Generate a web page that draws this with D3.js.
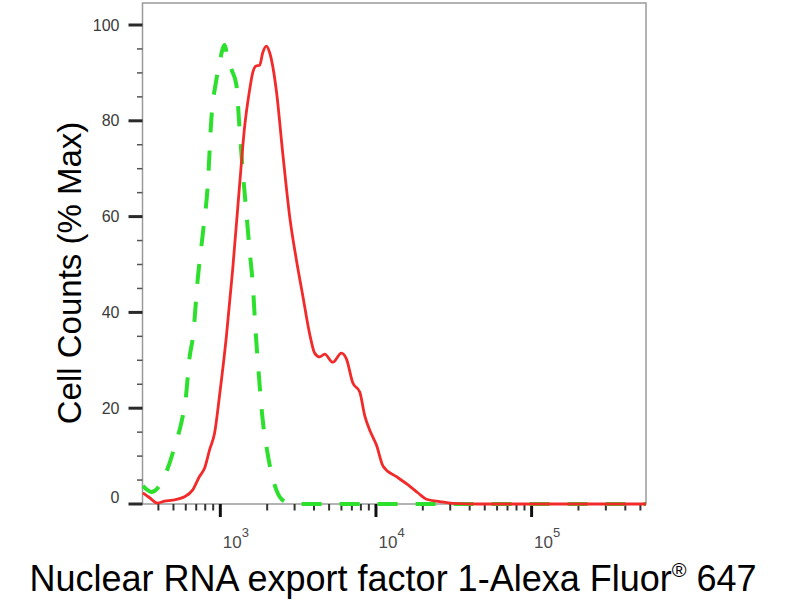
<!DOCTYPE html>
<html>
<head>
<meta charset="utf-8">
<script src="https://cdn.jsdelivr.net/npm/d3@7/dist/d3.min.js"></script>
<style>
  html, body { margin: 0; padding: 0; background: #fff; }
  svg { display: block; }
</style>
</head>
<body>
<svg id="chart" width="800" height="600"></svg>
<script>
// ---- Data (fluorescence intensity, % of max) ----
const redX = [318, 351, 395, 439, 494, 589, 663, 736, 793, 853, 919, 990, 1093, 1200, 1330, 1432, 1542, 1614, 1687, 1790, 1872, 1977, 2076, 2293, 2517, 2793, 3084, 3383, 3750, 4038, 4351, 4688, 5276, 5998, 6459, 7096, 7867, 8476, 9128, 10074, 11113, 13545, 16083, 18650, 21120, 25720, 31170, 46500, 100000, 300000, 543000];
const redY = [2.3, 1.3, 0.2, 0.6, 0.8, 1.5, 2.9, 5.8, 7.5, 11.3, 14.8, 22.8, 34.9, 48.9, 66.6, 78.7, 86.4, 90.0, 91.4, 91.6, 94.2, 95.6, 94.2, 86.2, 73.3, 59.9, 50.9, 43.6, 35.5, 31.5, 30.7, 31.3, 29.6, 31.5, 30.3, 25.3, 23.4, 18.4, 15.4, 12.3, 7.9, 5.7, 4.0, 2.3, 1.0, 0.5, 0.15, 0, 0, 0, 0];

const greenX = [318, 341, 361, 395, 426, 460, 508, 561, 598, 635, 667, 718, 773, 832, 875, 942, 990, 1066, 1119, 1183, 1268, 1331, 1397, 1475, 1542, 1621, 1687, 1738, 1881, 1985, 2128, 2293, 2478, 2791, 3200, 10000, 30000, 100000, 543000];
const greenY = [3.8, 2.9, 2.5, 3.3, 5.0, 7.5, 11.9, 16.9, 21.7, 30.7, 34.9, 47.4, 56.6, 67.0, 80.2, 88.5, 92.3, 95.8, 92.7, 90.6, 87.5, 78.1, 69.1, 60.3, 53.0, 45.3, 35.7, 30.1, 16.9, 11.7, 6.5, 2.9, 1.0, 0.2, 0, 0, 0, 0, 0];

const yTicks = [0, 20, 40, 60, 80, 100];
const yMinor = [5, 10, 15, 25, 30, 35, 45, 50, 55, 65, 70, 75, 85, 90, 95];
const xMajor = [1000, 10000, 100000];
const xMajorExp = ["3", "4", "5"];
const xMinor = [400, 500, 600, 700, 800, 900, 2000, 3000, 4000, 5000, 6000, 7000, 8000, 9000,
  20000, 30000, 40000, 50000, 60000, 70000, 80000, 90000, 200000, 300000, 400000, 500000];

const xTitle = "Nuclear RNA export factor 1-Alexa Fluor";
const xTitleSup = "®";
const xTitleEnd = " 647";
const yTitle = "Cell Counts (% Max)";

// ---- Layout ----
const svg = d3.select("#chart");
const L = 142.5, R = 646, T = 3, B = 504;

const x = d3.scaleLog().domain([Math.pow(10, 2.5), Math.pow(10, 5.735)]).range([L, R]);
const y = d3.scaleLinear().domain([0, 100]).range([B, 25]);

// frame
svg.append("rect").attr("x", L).attr("y", T).attr("width", R - L).attr("height", B - T)
  .attr("fill", "none").attr("stroke", "#9a9a9a").attr("stroke-width", 1.5);

// y ticks
const gy = svg.append("g");
gy.selectAll("line.maj").data(yTicks).join("line")
  .attr("x1", L - 14).attr("x2", L).attr("y1", d => y(d)).attr("y2", d => y(d))
  .attr("stroke", "#2a2a2a").attr("stroke-width", 3);
gy.selectAll("line.min").data(yMinor).join("line")
  .attr("x1", L - 5.5).attr("x2", L).attr("y1", d => y(d)).attr("y2", d => y(d))
  .attr("stroke", "#555").attr("stroke-width", 1.5);
gy.selectAll("text").data(yTicks).join("text")
  .attr("x", L - 23).attr("y", d => y(d) + (d === 0 ? -7 : 0))
  .attr("dy", "0.35em").attr("text-anchor", "end")
  .attr("font-family", "Liberation Sans, Arial, sans-serif").attr("font-size", 16)
  .attr("fill", "#3a3a3a").text(d => d);

// x ticks
const gx = svg.append("g");
gx.selectAll("line.min").data(xMinor).join("line")
  .attr("x1", d => x(d)).attr("x2", d => x(d)).attr("y1", B).attr("y2", B + 6.5)
  .attr("stroke", "#333").attr("stroke-width", 2);
gx.selectAll("line.maj").data(xMajor).join("line")
  .attr("x1", d => x(d)).attr("x2", d => x(d)).attr("y1", B).attr("y2", B + 13)
  .attr("stroke", "#111").attr("stroke-width", 3);
const xl = gx.selectAll("text").data(xMajor).join("text")
  .attr("x", d => x(d) + 2.5).attr("y", 548)
  .attr("font-family", "Liberation Sans, Arial, sans-serif").attr("font-size", 17)
  .attr("fill", "#4a4a4a");
xl.append("tspan").text("10");
xl.append("tspan").attr("dy", -11).attr("font-size", 13).text((d, i) => xMajorExp[i]);

// curves
const line = d3.line().x(d => x(d[0])).y(d => y(d[1])).curve(d3.curveMonotoneX);
const greenData = greenX.map((v, i) => [v, greenY[i]]);
const redData = redX.map((v, i) => [v, redY[i]]);

svg.append("path").datum(greenData).attr("d", line)
  .attr("fill", "none").attr("stroke", "#2de02d").attr("stroke-width", 4)
  .attr("stroke-dasharray", "20,18");
svg.append("path").datum(redData).attr("d", line)
  .attr("fill", "none").attr("stroke", "#f22a2a").attr("stroke-width", 2.8)
  .attr("stroke-linejoin", "round");

// titles
const xt = svg.append("text").attr("x", 393).attr("y", 591).attr("text-anchor", "middle")
  .attr("font-family", "Liberation Sans, Arial, sans-serif").attr("font-size", 36).attr("fill", "#000");
xt.append("tspan").text(xTitle);
xt.append("tspan").attr("dy", -14).attr("font-size", 20).text(xTitleSup);
xt.append("tspan").attr("dy", 14).text(xTitleEnd);

svg.append("text").attr("transform", "translate(81,273) rotate(-90)").attr("text-anchor", "middle")
  .attr("font-family", "Liberation Sans, Arial, sans-serif").attr("font-size", 33).attr("fill", "#000")
  .text(yTitle);
</script>
</body>
</html>
